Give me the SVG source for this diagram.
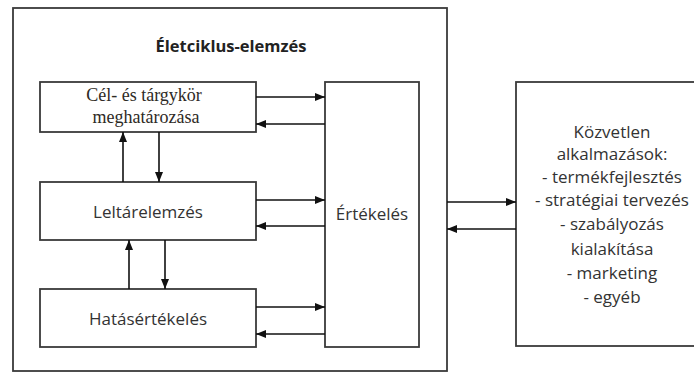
<svg xmlns="http://www.w3.org/2000/svg" width="694" height="374" viewBox="0 0 694 374">
<defs>
<style>
.box{fill:#fff;stroke:#3a3a3a;stroke-width:1.8}
.outer{fill:none;stroke:#3a3a3a;stroke-width:1.8}
.sans{font-family:"Open Sans","Liberation Sans",sans-serif;font-size:17px;fill:#333;text-anchor:middle}
.title{font-family:"Open Sans","Liberation Sans",sans-serif;font-size:16.5px;font-weight:bold;fill:#222;text-anchor:middle}
.serif{font-family:"Liberation Serif","DejaVu Serif",serif;font-size:18px;fill:#2e2a25;text-anchor:middle}
.list{font-family:"Open Sans","Liberation Sans",sans-serif;font-size:17px;fill:#333;text-anchor:middle}
.conn line{stroke:#111;stroke-width:1.6;fill:none;marker-end:url(#ah)}
</style>
<marker id="ah" markerUnits="userSpaceOnUse" markerWidth="10" markerHeight="10" viewBox="0 0 10 10" refX="10" refY="5" orient="auto">
<path d="M0,1 L10,5 L0,9 Z" fill="#111"/>
</marker>
</defs>
<rect width="694" height="374" fill="#fff"/>
<g id="outer">
<rect class="outer" x="13" y="8" width="434" height="363"/>
<text class="title" x="231" y="52">Életciklus-elemzés</text>
</g>
<g id="cel">
<rect class="box" x="40" y="82" width="216" height="50"/>
<text class="serif" x="144" y="101">Cél- és tárgykör</text>
<text class="serif" x="146" y="123">meghatározása</text>
</g>
<g id="leltar">
<rect class="box" x="40" y="182" width="216" height="58"/>
<text class="sans" x="148" y="218">Leltárelemzés</text>
</g>
<g id="hatas">
<rect class="box" x="40" y="289" width="216" height="58"/>
<text class="sans" x="148" y="325">Hatásértékelés</text>
</g>
<g id="ertekeles">
<rect class="box" x="325" y="82" width="94" height="265"/>
<text class="sans" x="372" y="220">Értékelés</text>
</g>
<g id="kozvetlen">
<rect class="box" x="516" y="82" width="190" height="264"/>
<text class="list" x="612" y="138">Közvetlen</text>
<text class="list" x="612" y="160">alkalmazások:</text>
<text class="list" x="612" y="183">- termékfejlesztés</text>
<text class="list" x="612" y="206">- stratégiai tervezés</text>
<text class="list" x="612" y="230">- szabályozás</text>
<text class="list" x="612" y="255">kialakítása</text>
<text class="list" x="612" y="279">- marketing</text>
<text class="list" x="612" y="303">- egyéb</text>
</g>
<g id="connectors" class="conn">
<line x1="256" y1="97" x2="325" y2="97"/>
<line x1="325" y1="124" x2="256" y2="124"/>
<line x1="256" y1="200" x2="325" y2="200"/>
<line x1="325" y1="226" x2="256" y2="226"/>
<line x1="256" y1="307" x2="325" y2="307"/>
<line x1="325" y1="334" x2="256" y2="334"/>
<line x1="123" y1="182" x2="123" y2="132"/>
<line x1="159" y1="132" x2="159" y2="182"/>
<line x1="129" y1="289" x2="129" y2="240"/>
<line x1="165" y1="240" x2="165" y2="289"/>
<line x1="447" y1="202" x2="516" y2="202"/>
<line x1="516" y1="229" x2="447" y2="229"/>
</g>
</svg>
